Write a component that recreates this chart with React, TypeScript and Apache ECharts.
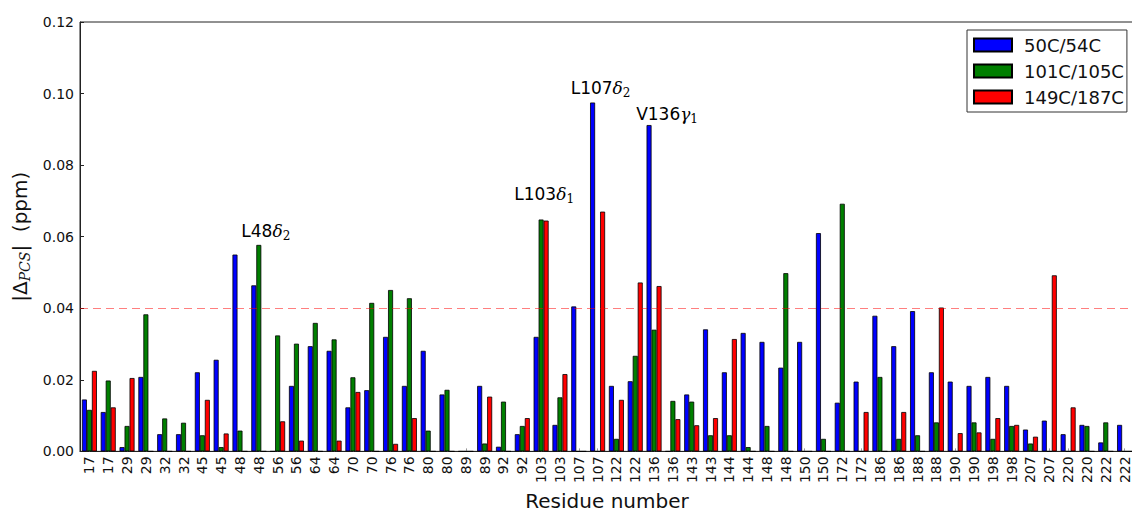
import React, { useEffect, useRef } from "react";
import * as echarts from "echarts";

const residues = [
  "17", "17", "29", "29", "32", "32", "45", "45", "48", "48",
  "56", "56", "64", "64", "70", "70", "76", "76", "80", "80",
  "89", "89", "92", "92", "103", "103", "107", "107", "122", "122",
  "136", "136", "143", "143", "144", "144", "148", "148", "150", "150",
  "172", "172", "186", "186", "188", "188", "190", "190", "198", "198",
  "207", "207", "220", "220", "222", "222",
];

const blue50C54C = [
  0.0145, 0.011, 0.0012, 0.0208, 0.0048, 0.0048, 0.0221, 0.0256, 0.055, 0.0464,
  0, 0.0183, 0.0294, 0.0281, 0.0123, 0.0171, 0.032, 0.0183, 0.0281, 0.0159,
  0, 0.0183, 0.0013, 0.0048, 0.032, 0.0074, 0.0405, 0.0975, 0.0183, 0.0196,
  0.0912, 0, 0.0159, 0.0341, 0.0221, 0.0331, 0.0306, 0.0234, 0.0306, 0.061,
  0.0136, 0.0195, 0.0379, 0.0294, 0.0392, 0.0221, 0.0195, 0.0183, 0.0208, 0.0183,
  0.0061, 0.0086, 0.0048, 0.0074, 0.0025, 0.0074,
];

const green101C105C = [
  0.0116, 0.0198, 0.0071, 0.0383, 0.0092, 0.008, 0.0045, 0.0012, 0.0058, 0.0577,
  0.0324, 0.0301, 0.0359, 0.0313, 0.0207, 0.0415, 0.0451, 0.0428, 0.0058, 0.0172,
  0, 0.0022, 0.0139, 0.0071, 0.0648, 0.0151, 0, 0, 0.0035, 0.0267,
  0.034, 0.0141, 0.0139, 0.0045, 0.0045, 0.0012, 0.0071, 0.0498, 0, 0.0035,
  0.0692, 0, 0.0208, 0.0035, 0.0045, 0.0081, 0, 0.0081, 0.0035, 0.0071,
  0.0022, 0, 0, 0.0071, 0.0081, 0,
];

const red149C187C = [
  0.0225, 0.0123, 0.0205, 0, 0, 0, 0.0144, 0.005, 0, 0,
  0.0084, 0.003, 0, 0.003, 0.0166, 0, 0.0021, 0.0093, 0, 0,
  0, 0.0153, 0, 0.0093, 0.0645, 0.0216, 0, 0.067, 0.0144, 0.0472,
  0.0462, 0.009, 0.0073, 0.0093, 0.0314, 0, 0, 0, 0, 0,
  0, 0.011, 0, 0.011, 0, 0.0402, 0.0051, 0.0053, 0.0093, 0.0074,
  0.0041, 0.0492, 0.0123, 0, 0, 0,
];

const seriesNames = ["50C/54C", "101C/105C", "149C/187C"];
const seriesColors = ["#0000ff", "#007f00", "#ff0000"];
const yTicks = [0, 0.02, 0.04, 0.06, 0.08, 0.1, 0.12];
const threshold = 0.04;

// annotations: [seriesIndex, dataIndex, residue text, greek letter, subscript, offset]
const annotations: [number, number, string, string, string, number[]][] = [
  [1, 9, "L48", "δ", "2", [7, 1]],
  [1, 24, "L103", "δ", "1", [3, -11]],
  [0, 27, "L107", "δ", "2", [8, 0]],
  [0, 30, "V136", "γ", "1", [18, 4]],
];

const richStyles = {
  a: { fontFamily: "DejaVu Sans", fontSize: 17, color: "#000" },
  g: { fontFamily: "DejaVu Serif", fontStyle: "italic", fontSize: 17, color: "#000" },
  s: { fontFamily: "DejaVu Serif", fontSize: 12, color: "#000", padding: [10, 0, 0, 0] },
};

function buildData(values: number[], seriesIndex: number) {
  return values.map((v, i) => {
    const ann = annotations.find((a) => a[0] === seriesIndex && a[1] === i);
    if (!ann) return v;
    return {
      value: v,
      label: {
        show: true,
        position: "top",
        distance: 4,
        offset: ann[5],
        formatter: `{a|${ann[2]}}{g|${ann[3]}}{s|${ann[4]}}`,
        rich: richStyles,
      },
    };
  });
}

export default function App() {
  const ref = useRef<HTMLDivElement>(null);
  useEffect(() => {
    if (!ref.current) return;
    const chart = echarts.init(ref.current, null, { renderer: "svg" });
    const allValues = [blue50C54C, green101C105C, red149C187C];
    chart.setOption({
      animation: false,
      backgroundColor: "#fff",
      textStyle: { fontFamily: "DejaVu Sans" },
      grid: {
        left: 80,
        top: 22,
        width: 1054,
        height: 437.5,
        show: true,
        borderColor: "#222",
        borderWidth: 1,
        containLabel: false,
      },
      legend: {
        left: 967,
        top: 30,
        orient: "vertical",
        data: seriesNames,
        icon: "rect",
        itemWidth: 38,
        itemHeight: 13,
        itemGap: 8,
        padding: [6, 3, 6, 6],
        borderColor: "#333",
        borderWidth: 1,
        backgroundColor: "#fff",
        textStyle: {
          fontFamily: "DejaVu Sans",
          fontSize: 18,
          color: "#111",
          padding: [0, 0, 0, 7],
        },
      },
      xAxis: {
        type: "category",
        data: residues,
        name: "Residue number",
        nameLocation: "middle",
        nameGap: 37,
        nameTextStyle: { fontFamily: "DejaVu Sans", fontSize: 20, color: "#111" },
        axisLine: { show: true, lineStyle: { color: "#222", width: 1 } },
        axisTick: { show: true, inside: true, length: 3, alignWithLabel: true, lineStyle: { color: "#999" } },
        axisLabel: {
          rotate: 90,
          interval: 0,
          margin: 5,
          fontFamily: "DejaVu Sans",
          fontSize: 14,
          color: "#111",
        },
        splitLine: { show: false },
      },
      yAxis: {
        type: "value",
        min: 0,
        max: 0.12,
        interval: 0.02,
        name: "{a||Δ}{s|PCS}{a|\u007C  (ppm)}",
        nameLocation: "middle",
        nameGap: 48,
        nameRotate: 90,
        nameTextStyle: {
          fontFamily: "DejaVu Sans",
          fontSize: 20,
          color: "#111",
          rich: {
            a: { fontFamily: "DejaVu Sans", fontSize: 20, color: "#111" },
            s: {
              fontFamily: "DejaVu Serif",
              fontStyle: "italic",
              fontSize: 14,
              color: "#111",
              padding: [10, 0, 0, 0],
            },
          },
        },
        axisLine: { show: true, lineStyle: { color: "#222", width: 1 } },
        axisTick: { show: true, inside: true, length: 4, lineStyle: { color: "#222" } },
        axisLabel: {
          margin: 6,
          fontFamily: "DejaVu Sans",
          fontSize: 14,
          color: "#111",
          formatter: (v: number) => {
            const t = yTicks.find((x) => Math.abs(x - v) < 1e-9);
            return (t !== undefined ? t : v).toFixed(2);
          },
        },
        splitLine: { show: false },
      },
      series: seriesNames.map((name, si) => ({
        name,
        type: "bar",
        barWidth: 5,
        barGap: "0%",
        data: buildData(allValues[si], si),
        itemStyle: { color: seriesColors[si], borderColor: "#000", borderWidth: 0.8 },
        markLine:
          si === 0
            ? {
                silent: true,
                symbol: "none",
                label: { show: false },
                lineStyle: { color: "rgba(255,0,0,0.5)", type: [8, 5], width: 1 },
                data: [{ yAxis: threshold }],
              }
            : undefined,
      })),
    });
    return () => chart.dispose();
  }, []);
  return (
    <div
      ref={ref}
      style={{ position: "fixed", left: 0, top: 0, width: 1140, height: 516, background: "#fff" }}
    />
  );
}
